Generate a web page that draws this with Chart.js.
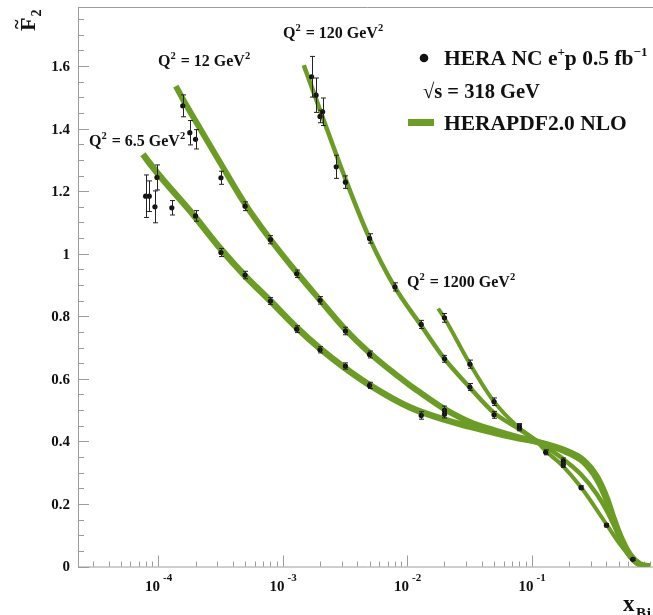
<!DOCTYPE html>
<html>
<head>
<meta charset="utf-8">
<script src="https://cdn.jsdelivr.net/npm/chart.js@4.4.1/dist/chart.umd.min.js"></script>
<style>
  html, body { margin: 0; padding: 0; background: #fff; overflow: hidden; }
  #wrap { width: 653px; height: 615px; overflow: hidden; }
</style>
</head>
<body>
<div id="wrap"><canvas id="f2Chart" width="665" height="615"></canvas></div>
<script>
// HERA NC e+p reduced cross section vs x, four Q2 bins
const q2Values = ['6.5', '12', '120', '1200'];

// measured points
const x65 = [7.95e-5, 8.5e-5, 9.44e-5, 9.8e-5, 1.29e-4, 2.0e-4, 3.2e-4, 5.0e-4, 8.0e-4, 1.3e-3, 2.0e-3, 3.2e-3, 5.0e-3, 1.3e-2, 2.0e-2];
const y65 = [1.184, 1.184, 1.150, 1.244, 1.147, 1.121, 1.004, 0.932, 0.849, 0.759, 0.693, 0.641, 0.579, 0.483, 0.487];
const e65 = [0.068, 0.049, 0.051, 0.040, 0.023, 0.017, 0.013, 0.012, 0.011, 0.011, 0.010, 0.010, 0.010, 0.012, 0.012];

const x12 = [1.58e-4, 1.8e-4, 2.0e-4, 3.2e-4, 5.0e-4, 8.0e-4, 1.3e-3, 2.0e-3, 3.2e-3, 5.0e-3, 2.0e-2];
const y12 = [1.473, 1.387, 1.366, 1.243, 1.152, 1.045, 0.936, 0.851, 0.753, 0.678, 0.499];
const e12 = [0.035, 0.039, 0.031, 0.021, 0.014, 0.013, 0.012, 0.012, 0.012, 0.011, 0.014];

const x120 = [1.71e-3, 1.86e-3, 2.0e-3, 2.1e-3, 2.7e-3, 3.2e-3, 5.0e-3, 8.0e-3, 1.3e-2, 2.0e-2, 3.2e-2, 5.0e-2, 8.0e-2, 0.18];
const y120 = [1.566, 1.507, 1.439, 1.454, 1.278, 1.229, 1.049, 0.894, 0.774, 0.664, 0.574, 0.485, 0.447, 0.337];
const e120 = [0.065, 0.055, 0.020, 0.044, 0.037, 0.020, 0.015, 0.013, 0.013, 0.011, 0.011, 0.011, 0.010, 0.010];

const x1200 = [2.0e-2, 3.2e-2, 5.0e-2, 8.0e-2, 0.13, 0.18, 0.25, 0.40, 0.65];
const y1200 = [0.795, 0.647, 0.527, 0.444, 0.365, 0.325, 0.252, 0.132, 0.023];
const e1200 = [0.014, 0.013, 0.012, 0.010, 0.008, 0.008, 0.006, 0.005, 0.003];

// HERAPDF2.0 NLO predictions
const cx65 = [7.55e-5, 9.8e-5, 1.98e-4, 3.15e-4, 4.98e-4, 7.91e-4, 1.3e-3, 2.0e-3, 3.16e-3, 4.93e-3, 1.05e-2, 1.98e-2, 3.2e-2, 4.98e-2, 7.91e-2, 0.11, 0.178, 0.26, 0.334, 0.403, 0.45, 0.512, 0.616, 0.741, 0.89];
const cy65 = [1.318, 1.260, 1.118, 1.018, 0.930, 0.851, 0.764, 0.697, 0.635, 0.582, 0.509, 0.470, 0.447, 0.428, 0.410, 0.399, 0.374, 0.340, 0.287, 0.217, 0.160, 0.100, 0.038, 0.007, 0];

const cx12 = [1.39e-4, 1.58e-4, 1.98e-4, 3.15e-4, 4.98e-4, 7.91e-4, 1.3e-3, 2.0e-3, 3.16e-3, 4.93e-3, 1.05e-2, 1.29e-2, 1.98e-2, 3.2e-2, 4.98e-2, 7.91e-2, 0.11, 0.178, 0.26, 0.334, 0.403, 0.45, 0.512, 0.616, 0.741, 0.89];
const cy12 = [1.536, 1.495, 1.428, 1.292, 1.160, 1.048, 0.940, 0.852, 0.760, 0.685, 0.580, 0.555, 0.505, 0.462, 0.436, 0.413, 0.399, 0.371, 0.335, 0.280, 0.210, 0.154, 0.094, 0.035, 0.006, 0];

const cx120 = [1.48e-3, 1.72e-3, 2.12e-3, 3.16e-3, 4.93e-3, 7.98e-3, 1.29e-2, 1.98e-2, 3.2e-2, 4.98e-2, 7.91e-2, 0.11, 0.128, 0.178, 0.249, 0.334, 0.403, 0.512, 0.639, 0.784, 0.89];
const cy120 = [1.603, 1.532, 1.432, 1.245, 1.055, 0.893, 0.772, 0.666, 0.572, 0.492, 0.440, 0.402, 0.384, 0.345, 0.295, 0.232, 0.178, 0.094, 0.028, 0.003, 0];

const cx1200 = [1.78e-2, 1.98e-2, 3.2e-2, 4.98e-2, 7.91e-2, 0.11, 0.128, 0.178, 0.249, 0.403, 0.512, 0.647, 0.784, 0.89];
const cy1200 = [0.825, 0.797, 0.648, 0.528, 0.444, 0.401, 0.372, 0.322, 0.254, 0.133, 0.072, 0.023, 0.003, 0];

// axis ticks
const xMajorTicks = [1e-4, 1e-3, 1e-2, 1e-1];
const xTickExponents = ['-4', '-3', '-2', '-1'];
const yMajorTicks = [0, 0.2, 0.4, 0.6, 0.8, 1.0, 1.2, 1.4, 1.6];
const yTickLabels = ['0', '0.2', '0.4', '0.6', '0.8', '1', '1.2', '1.4', '1.6'];

const GREEN = '#6b9d24';
const SERIF = '"Liberation Serif", "Times New Roman", serif';

function toPoints(xs, ys) {
    return xs.map((x, i) => ({ x: x, y: ys[i] }));
}

function dataSet(label, xs, ys, errs) {
    return {
        label: label,
        data: toPoints(xs, ys),
        errors: errs,
        showLine: false,
        pointRadius: 2.6,
        pointBackgroundColor: '#111',
        pointBorderWidth: 0,
        order: 1
    };
}

function curveSet(label, xs, ys, width) {
    return {
        label: label,
        data: toPoints(xs, ys),
        showLine: true,
        borderColor: GREEN,
        borderWidth: width,
        pointRadius: 0,
        cubicInterpolationMode: 'monotone',
        order: 2
    };
}

// draws a string made of parts (normal text and raised exponents)
function drawParts(ctx, parts, x, y) {
    let cx = x;
    parts.forEach(p => {
        ctx.font = 'bold ' + p.size + 'px ' + SERIF;
        ctx.fillText(p.t, cx, y + (p.dy || 0));
        cx += ctx.measureText(p.t).width + (p.gap || 0);
    });
}

function q2Label(ctx, v, x, y) {
    drawParts(ctx, [
        { t: 'Q', size: 16 },
        { t: '2', size: 10.5, dy: -7.5, gap: 1 },
        { t: ' = ' + v + ' GeV', size: 16 },
        { t: '2', size: 10.5, dy: -7.5 }
    ], x, y);
}

const axesPlugin = {
    id: 'rootAxes',
    beforeDatasetsDraw(chart) {
        const ctx = chart.ctx;
        const area = chart.chartArea;
        const xs = chart.scales.x;
        const ys = chart.scales.y;
        ctx.save();
        ctx.strokeStyle = '#9c9c9c';
        ctx.lineWidth = 1;
        ctx.beginPath();
        ctx.moveTo(area.left + 0.5, area.top + 0.5);
        ctx.lineTo(area.right, area.top + 0.5);
        ctx.moveTo(area.left + 0.5, area.top);
        ctx.lineTo(area.left + 0.5, area.bottom + 0.5);
        ctx.lineTo(area.right, area.bottom + 0.5);
        // y ticks
        for (let v = 0; v <= 1.7501; v += 0.05) {
            const py = Math.round(ys.getPixelForValue(v)) + 0.5;
            const major = Math.abs(v / 0.2 - Math.round(v / 0.2)) < 1e-6;
            ctx.moveTo(area.left, py);
            ctx.lineTo(area.left + (major ? 11 : 6), py);
        }
        // x ticks
        for (let k = -5; k <= -1; k++) {
            for (let m = 1; m <= 9; m++) {
                const v = m * Math.pow(10, k);
                if (v < xs.min || v > xs.max) continue;
                const px = Math.round(xs.getPixelForValue(v)) + 0.5;
                ctx.moveTo(px, area.bottom);
                ctx.lineTo(px, area.bottom - (m === 1 ? 11 : 5));
            }
        }
        ctx.stroke();
        ctx.restore();
    },
    afterDatasetsDraw(chart) {
        const ctx = chart.ctx;
        const xs = chart.scales.x;
        const ys = chart.scales.y;
        ctx.save();
        ctx.strokeStyle = '#222';
        ctx.lineWidth = 1;
        chart.data.datasets.forEach(ds => {
            if (!ds.errors) return;
            ctx.beginPath();
            ds.data.forEach((p, i) => {
                const px = Math.round(xs.getPixelForValue(p.x)) + 0.5;
                const top = ys.getPixelForValue(p.y + ds.errors[i]);
                const bot = ys.getPixelForValue(p.y - ds.errors[i]);
                ctx.moveTo(px, top);
                ctx.lineTo(px, bot);
                ctx.moveTo(px - 2.5, top);
                ctx.lineTo(px + 2.5, top);
                ctx.moveTo(px - 2.5, bot);
                ctx.lineTo(px + 2.5, bot);
            });
            ctx.stroke();
        });
        ctx.restore();
    },
    afterDraw(chart) {
        const ctx = chart.ctx;
        const xs = chart.scales.x;
        const ys = chart.scales.y;
        ctx.save();
        ctx.fillStyle = '#111';

        // y tick labels
        ctx.font = 'bold 15px ' + SERIF;
        ctx.textAlign = 'right';
        ctx.textBaseline = 'middle';
        yMajorTicks.forEach((v, i) => {
            ctx.fillText(yTickLabels[i], 70, ys.getPixelForValue(v) + 1);
        });

        // x tick labels 10^n
        ctx.textBaseline = 'alphabetic';
        xMajorTicks.forEach((v, i) => {
            const px = xs.getPixelForValue(v);
            ctx.font = 'bold 15px ' + SERIF;
            ctx.textAlign = 'right';
            ctx.fillText('10', px + 2, 591);
            ctx.font = 'bold 11px ' + SERIF;
            ctx.textAlign = 'left';
            ctx.fillText(xTickExponents[i], px + 5, 581);
        });

        // axis titles
        ctx.textAlign = 'left';
        ctx.font = 'bold 23px ' + SERIF;
        ctx.fillText('x', 623, 611);
        ctx.font = 'bold 15px ' + SERIF;
        ctx.fillText('Bj', 636, 618);

        ctx.save();
        ctx.translate(35, 31);
        ctx.rotate(-Math.PI / 2);
        ctx.font = 'bold 22px ' + SERIF;
        ctx.fillText('F', 0, 0);
        const fw = ctx.measureText('F').width;
        ctx.font = 'bold 14px ' + SERIF;
        ctx.fillText('2', fw + 1, 6);
        ctx.font = 'bold 18px ' + SERIF;
        ctx.fillText('~', 2, -12);
        ctx.restore();

        // Q2 labels
        q2Label(ctx, q2Values[0], 89, 146);
        q2Label(ctx, q2Values[1], 158, 66);
        q2Label(ctx, q2Values[2], 283, 38);
        q2Label(ctx, q2Values[3], 407, 287);

        // legend
        ctx.beginPath();
        ctx.arc(424, 58, 4.3, 0, Math.PI * 2);
        ctx.fill();
        drawParts(ctx, [
            { t: 'HERA NC e', size: 21.5 },
            { t: '+', size: 13, dy: -9 },
            { t: 'p 0.5 fb', size: 21.5 },
            { t: '\u22121', size: 13, dy: -9 }
        ], 444, 65);
        drawParts(ctx, [{ t: '\u221As = 318 GeV', size: 20.5 }], 423, 98);
        ctx.fillStyle = GREEN;
        ctx.fillRect(408, 119, 26, 7);
        ctx.fillStyle = '#111';
        drawParts(ctx, [{ t: 'HERAPDF2.0 NLO', size: 21.5 }], 444, 130);

        ctx.restore();
    }
};

new Chart(document.getElementById('f2Chart'), {
    type: 'scatter',
    data: {
        datasets: [
            dataSet('Q2 = 6.5', x65, y65, e65),
            dataSet('Q2 = 12', x12, y12, e12),
            dataSet('Q2 = 120', x120, y120, e120),
            dataSet('Q2 = 1200', x1200, y1200, e1200),
            curveSet('fit 6.5', cx65, cy65, 6.5),
            curveSet('fit 12', cx12, cy12, 6),
            curveSet('fit 120', cx120, cy120, 4.5),
            curveSet('fit 1200', cx1200, cy1200, 4)
        ]
    },
    options: {
        responsive: false,
        animation: false,
        layout: {
            padding: { left: 78, top: 7, right: 9, bottom: 48.5 }
        },
        plugins: {
            legend: { display: false },
            tooltip: { enabled: false }
        },
        scales: {
            x: {
                type: 'logarithmic',
                display: false,
                min: 2.275e-5,
                max: 1
            },
            y: {
                type: 'linear',
                display: false,
                min: 0,
                max: 1.789
            }
        }
    },
    plugins: [axesPlugin]
});
</script>
</body>
</html>
